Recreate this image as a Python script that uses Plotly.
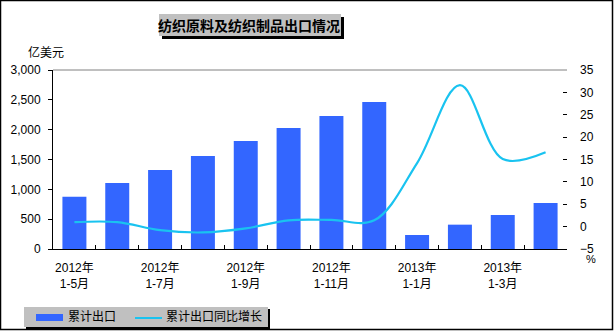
import plotly.graph_objects as go

W, H = 614, 331

categories = ["2012年1-5月", "2012年1-6月", "2012年1-7月", "2012年1-8月", "2012年1-9月",
              "2012年1-10月", "2012年1-11月", "2012年1-12月", "2013年1-1月", "2013年1-2月",
              "2013年1-3月", "2013年1-4月"]
exports = [877, 1106, 1324, 1559, 1810, 2028, 2229, 2464, 235, 408, 570, 771]
growth = [1.0, 1.0, -0.8, -1.3, -0.4, 1.4, 1.5, 1.4, 14.2, 31.6, 15.1, 16.6]
tick_labels = ["2012年<br>1-5月", "", "2012年<br>1-7月", "", "2012年<br>1-9月", "",
               "2012年<br>1-11月", "", "2013年<br>1-1月", "", "2013年<br>1-3月", ""]

title_text = "纺织原料及纺织制品出口情况"
left_unit = "亿美元"
right_unit = "%"
name_bar = "累计出口"
name_line = "累计出口同比增长"

BAR = "#3366FF"
LINE = "#19C3F0"
FONT = "Liberation Sans, Arial, Noto Sans CJK SC, sans-serif"


def px(x):
    return x / W


def py(y):
    return 1 - y / H


fig = go.Figure()
fig.add_trace(go.Bar(x=categories, y=exports, name=name_bar, marker_color=BAR,
                     marker_line_width=0, width=0.56, yaxis="y"))
fig.add_trace(go.Scatter(x=categories, y=growth, name=name_line, mode="lines",
                         line=dict(color=LINE, width=2.2, shape="spline", smoothing=1.0),
                         yaxis="y2"))

shapes = []
# outer border
shapes.append(dict(type="rect", xref="paper", yref="paper", x0=px(0.5), x1=px(W - 1.5),
                   y0=py(H - 1.5), y1=py(0.5), line=dict(color="black", width=1.5)))
# top gray line of plot area
shapes.append(dict(type="line", xref="paper", yref="paper", x0=px(53), x1=px(567),
                   y0=py(70), y1=py(70), line=dict(color="#808080", width=1)))
# title box with shadow
shapes.append(dict(type="rect", xref="paper", yref="paper", x0=px(162), x1=px(344),
                   y0=py(39), y1=py(17), fillcolor="black", line_width=0, layer="above"))
shapes.append(dict(type="rect", xref="paper", yref="paper", x0=px(159), x1=px(341),
                   y0=py(36), y1=py(14), fillcolor="#C0C0C0", line_width=0, layer="above"))
# legend box with shadow
shapes.append(dict(type="rect", xref="paper", yref="paper", x0=px(26), x1=px(270),
                   y0=py(329), y1=py(309), fillcolor="black", line_width=0))
shapes.append(dict(type="rect", xref="paper", yref="paper", x0=px(24), x1=px(268),
                   y0=py(327), y1=py(307), fillcolor="#C0C0C0", line_width=0))
shapes.append(dict(type="rect", xref="paper", yref="paper", x0=px(36), x1=px(63),
                   y0=py(321), y1=py(314), fillcolor=BAR, line_width=0))
shapes.append(dict(type="line", xref="paper", yref="paper", x0=px(135), x1=px(162),
                   y0=py(318), y1=py(318), line=dict(color=LINE, width=2)))

annotations = [
    dict(text="<b>" + title_text + "</b>", xref="paper", yref="paper", x=px(249), y=py(25),
         xanchor="center", yanchor="middle", showarrow=False,
         font=dict(size=14, color="black", family="Noto Sans CJK SC")),
    dict(text=left_unit, xref="paper", yref="paper", x=px(26), y=py(52),
         xanchor="left", yanchor="middle", showarrow=False,
         font=dict(size=12, color="black", family=FONT)),
    dict(text=right_unit, xref="paper", yref="paper", x=px(584), y=py(259),
         xanchor="left", yanchor="middle", showarrow=False,
         font=dict(size=11, color="black", family=FONT)),
    dict(text=name_bar, xref="paper", yref="paper", x=px(66), y=py(317),
         xanchor="left", yanchor="middle", showarrow=False,
         font=dict(size=12, color="black", family=FONT)),
    dict(text=name_line, xref="paper", yref="paper", x=px(164), y=py(317),
         xanchor="left", yanchor="middle", showarrow=False,
         font=dict(size=12, color="black", family=FONT)),
]

fig.update_layout(
    width=W, height=H, margin=dict(l=0, r=0, t=0, b=0, autoexpand=False),
    paper_bgcolor="white", plot_bgcolor="white",
    showlegend=False, bargap=0.44,
    font=dict(family=FONT, size=12, color="black"),
    xaxis=dict(domain=[px(53), px(567)], type="category", automargin=False,
               tickmode="array", tickvals=categories, ticktext=tick_labels,
               tickson="boundaries", ticks="inside", ticklen=4, tickcolor="black",
               showline=True, linecolor="black", linewidth=1, showgrid=False,
               tickfont=dict(size=12), ticklabelstandoff=8, tickangle=0),
    yaxis=dict(domain=[py(249), py(70)], range=[0, 3000], dtick=500, tickformat=",",
               automargin=False,
               showline=True, linecolor="black", linewidth=1, showgrid=False,
               ticks="outside", ticklen=4, tickcolor="black", zeroline=False,
               tickfont=dict(size=12), ticklabelstandoff=5),
    yaxis2=dict(overlaying="y", side="right", anchor="x", range=[-5, 35], dtick=5,
                automargin=False,
                showline=False, showgrid=False, zeroline=False,
                ticks="inside", ticklen=4, tickcolor="black",
                tickfont=dict(size=12), ticklabelstandoff=12),
    shapes=shapes, annotations=annotations,
)

fig.write_html("out.html")
